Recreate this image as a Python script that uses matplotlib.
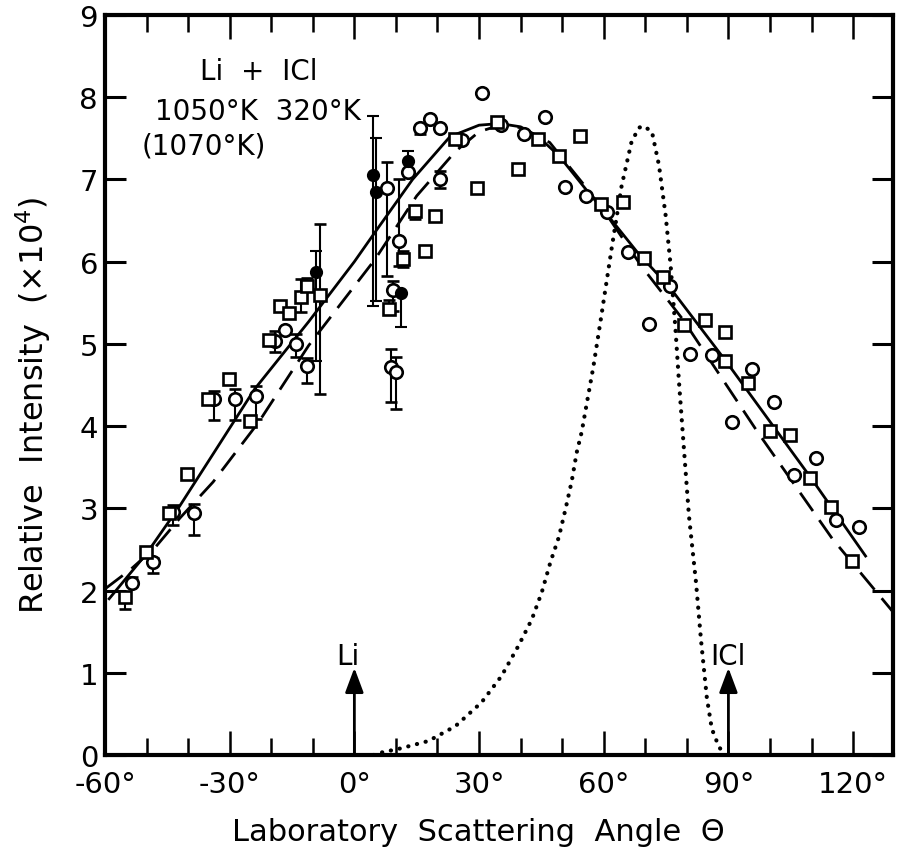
import matplotlib
matplotlib.use("Agg")
import matplotlib.pyplot as plt
from matplotlib.ticker import MultipleLocator, FixedLocator

plt.rcParams['font.family'] = ['DejaVu Sans', 'Noto Sans']
plt.rcParams['mathtext.fontset'] = 'dejavusans'

# ---------------- data ----------------
# open circles: angle (deg), relative intensity (x1e4), lower / upper error
circ_angle = [-53.5, -48.4, -43.6, -38.6, -33.7, -28.7, -23.6, -19.0, -16.6, -14.0,
              -11.3, 7.9, 13.0, 10.8, 9.2, 8.7, 10.1, 15.7, 18.1, 20.7,
              20.7, 25.8, 30.6, 35.4, 40.7, 45.8, 50.8, 55.7, 60.7, 65.8,
              70.8, 75.9, 80.7, 86.0, 90.8, 95.7, 101.0, 105.8, 111.0, 116.0, 121.4]
circ_value = [2.09, 2.35, 2.96, 2.94, 4.33, 4.33, 4.37, 5.04, 5.17, 5.00,
              4.73, 6.89, 7.09, 6.25, 5.65, 4.72, 4.66, 7.62, 7.74, 7.62,
              7.00, 7.48, 8.05, 7.66, 7.55, 7.76, 6.91, 6.80, 6.60, 6.12,
              5.24, 5.70, 4.88, 4.87, 4.05, 4.70, 4.29, 3.41, 3.61, 2.86, 2.77]
circ_err_lo = [0.00, 0.14, 0.16, 0.27, 0.26, 0.26, 0.28, 0.14, 0.00, 0.16,
               0.20, 1.06, 0.00, 0.30, 0.25, 0.43, 0.45, 0.07, 0.00, 0.00,
               0.10, 0.00, 0.00, 0.00, 0.00, 0.00, 0.00, 0.00, 0.00, 0.00,
               0.00, 0.00, 0.00, 0.00, 0.00, 0.00, 0.00, 0.00, 0.00, 0.00, 0.00]
circ_err_hi = [0.07, 0.05, 0.08, 0.11, 0.10, 0.12, 0.12, 0.12, 0.00, 0.12,
               0.10, 0.32, 0.00, 0.75, 0.12, 0.22, 0.18, 0.00, 0.00, 0.00,
               0.10, 0.00, 0.00, 0.00, 0.00, 0.00, 0.00, 0.00, 0.00, 0.00,
               0.00, 0.00, 0.00, 0.00, 0.00, 0.00, 0.00, 0.00, 0.00, 0.00, 0.00]

# open squares
sq_angle = [-55.2, -50.1, -44.6, -40.2, -35.2, -30.1, -25.1, -20.5, -17.8, -15.7,
            -12.8, -11.3, -8.2, 8.4, 11.8, 14.5, 17.1, 19.5, 24.3, 29.6,
            34.2, 39.3, 44.1, 49.2, 54.2, 59.3, 64.6, 69.6, 74.3, 79.3,
            84.3, 89.2, 89.2, 94.7, 100.0, 104.8, 109.6, 114.7, 119.8]
sq_value = [1.92, 2.47, 2.94, 3.42, 4.33, 4.57, 4.06, 5.05, 5.46, 5.37,
            5.57, 5.70, 5.59, 5.43, 6.03, 6.62, 6.13, 6.55, 7.49, 6.89,
            7.70, 7.13, 7.49, 7.29, 7.53, 6.70, 6.72, 6.05, 5.81, 5.23,
            5.29, 5.15, 4.79, 4.53, 3.94, 3.89, 3.37, 3.02, 2.36]
sq_err_lo = [0.14, 0.00, 0.00, 0.00, 0.00, 0.00, 0.00, 0.00, 0.00, 0.00,
             0.18, 0.00, 1.20, 0.00, 0.10, 0.10, 0.00, 0.00, 0.00, 0.00,
             0.00, 0.00, 0.00, 0.00, 0.00, 0.00, 0.00, 0.00, 0.00, 0.00,
             0.00, 0.00, 0.00, 0.00, 0.00, 0.00, 0.00, 0.00, 0.00]
sq_err_hi = [0.00, 0.00, 0.00, 0.00, 0.00, 0.00, 0.00, 0.00, 0.00, 0.00,
             0.22, 0.10, 0.87, 0.10, 0.10, 0.05, 0.00, 0.00, 0.00, 0.00,
             0.00, 0.00, 0.00, 0.00, 0.00, 0.00, 0.00, 0.00, 0.00, 0.00,
             0.00, 0.00, 0.00, 0.00, 0.00, 0.00, 0.00, 0.00, 0.00]

# filled (dark) circles
dark_angle = [-9.2, 4.6, 5.3, 13.0, 11.1]
dark_value = [5.87, 7.05, 6.85, 7.23, 5.62]
dark_err_lo = [1.08, 1.59, 1.33, 0.00, 0.42]
dark_err_hi = [0.26, 0.72, 0.65, 0.12, 0.00]

# fitted curves
solid_angle = [-59, -50, -42, -34, -24, -11, 0, 5, 14, 23, 30, 35, 40, 44,
               49.2, 55.7, 60.7, 68, 76, 89.4, 110, 123]
solid_value = [1.90, 2.45, 3.03, 3.66, 4.45, 5.27, 6.00, 6.36, 7.00, 7.52, 7.66, 7.68, 7.64, 7.53,
               7.29, 6.88, 6.58, 6.12, 5.68, 4.79, 3.36, 2.42]
dash_angle = [-60, -54, -48, -42, -34, -23, -11, 5, 15, 24.3, 30, 35, 40, 47,
              55, 61, 69, 79, 97, 115, 129.6]
dash_value = [2.02, 2.25, 2.52, 2.88, 3.32, 4.05, 4.98, 6.03, 6.80, 7.34, 7.58, 7.66, 7.63, 7.45,
              6.95, 6.55, 5.95, 5.30, 3.93, 2.63, 1.74]

# dotted distribution curve
dot_angle = [4.6, 6.5, 11.1, 17.8, 24.3, 30.6, 35.4, 39.5, 42.7, 45.1, 47.2, 49.2,
             50.8, 52.3, 53.5, 54.7, 55.9, 57.5, 59.3, 61.9, 64.3, 66.7, 68.5, 69.6,
             71.6, 73.3, 74.9, 76.1, 77.3, 78.1, 79.3, 80.5, 82.2, 83.4, 84.8, 86.0,
             87.7, 88.9]
dot_value = [0.0, 0.03, 0.08, 0.17, 0.35, 0.64, 0.96, 1.33, 1.65, 1.98, 2.35, 2.65,
             2.99, 3.33, 3.68, 3.93, 4.27, 4.72, 5.30, 6.16, 6.92, 7.46, 7.63, 7.65,
             7.58, 7.17, 6.56, 5.95, 5.15, 4.54, 3.72, 2.91, 2.10, 1.40, 0.70, 0.32,
             0.10, 0.02]

# beam directions
beam_names = ['Li', 'ICl']
beam_angle = [0, 90]

x_ticks = [-60, -30, 0, 30, 60, 90, 120]
x_ticklabels = ['-60°', '-30°', '0°', '30°', '60°', '90°', '120°']
y_ticks = [0, 1, 2, 3, 4, 5, 6, 7, 8, 9]

# ---------------- figure ----------------
fig = plt.figure(figsize=(9.01, 8.54), dpi=100)
ax = fig.add_axes([105/901, 1 - 756/854, 788/901, 740/854])
ax.set_xlim(-60, 129.6)
ax.set_ylim(0, 9)

ax.plot(solid_angle, solid_value, color='black', lw=2.0, zorder=2)
ax.plot(dash_angle, dash_value, color='black', lw=2.0, linestyle=(0, (8, 4)), zorder=2)
ax.plot(dot_angle, dot_value, color='black', lw=3.0, linestyle=(0, (0.05, 2.1)),
        dash_capstyle='round', zorder=2)

eb_kw = dict(ecolor='black', elinewidth=1.5, capsize=4, capthick=1.5, linestyle='none', zorder=3)
ax.errorbar(circ_angle, circ_value, yerr=[circ_err_lo, circ_err_hi], fmt='o',
            ms=9, mfc='white', mec='black', mew=1.9, **eb_kw)
ax.errorbar(sq_angle, sq_value, yerr=[sq_err_lo, sq_err_hi], fmt='s',
            ms=8.5, mfc='white', mec='black', mew=1.9, **eb_kw)
ax.errorbar(dark_angle, dark_value, yerr=[dark_err_lo, dark_err_hi], fmt='o',
            ms=8, mfc='black', mec='black', mew=1.5, **eb_kw)

# beam arrows
for name, ang in zip(beam_names, beam_angle):
    ax.annotate('', xy=(ang, 1.06), xytext=(ang, 0), zorder=2,
                arrowprops=dict(arrowstyle='-|>,head_length=0.75,head_width=0.28',
                                mutation_scale=20, lw=2.0, color='black',
                                shrinkA=0, shrinkB=0))
    ax.text(ang - (1.5 if name == 'Li' else 0), 1.2, name, ha='center', va='center',
            fontsize=20)

# header text
ax.text(-22.9, 8.32, 'Li  +  ICl', ha='center', va='center', fontsize=20)
ax.text(-23.2, 7.83, '1050°K  320°K', ha='center', va='center', fontsize=20)
ax.text(-36.2, 7.41, '(1070°K)', ha='center', va='center', fontsize=20)

# axes styling
for s in ax.spines.values():
    s.set_linewidth(3)
ax.xaxis.set_major_locator(FixedLocator(x_ticks))
ax.set_xticklabels(x_ticklabels)
ax.xaxis.set_minor_locator(MultipleLocator(10))
ax.yaxis.set_major_locator(FixedLocator(y_ticks))
ax.tick_params(axis='x', which='major', direction='in', length=17, width=1.8,
               top=True, bottom=True, labelsize=21, pad=11)
ax.tick_params(axis='x', which='minor', direction='in', length=12, width=1.8,
               top=True, bottom=True)
ax.tick_params(axis='y', which='major', direction='in', length=15, width=2.2,
               left=True, right=True, labelsize=21, pad=5)

fig.text(478/901, 1 - 833/854, 'Laboratory  Scattering  Angle  Θ', ha='center', va='center',
         fontsize=22)
fig.text(33/901, 1 - 405/854, r'Relative  Intensity  (×10$^{4}$)', ha='center', va='center',
         rotation=90, fontsize=23)

fig.savefig('out.png', dpi=100, facecolor='white')
